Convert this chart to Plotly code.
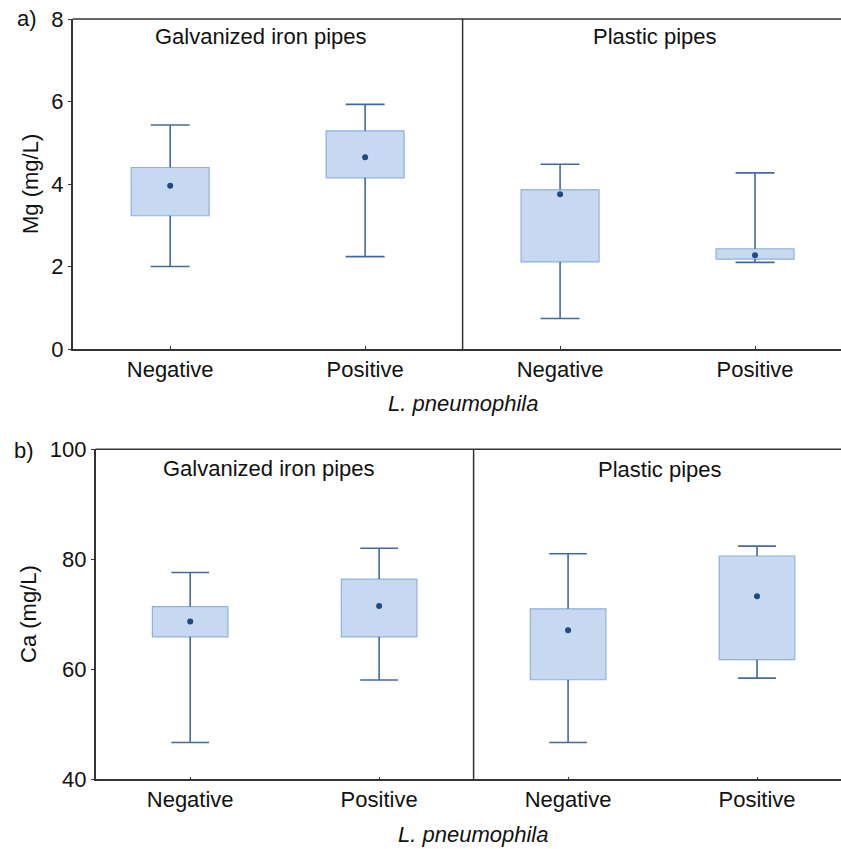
import plotly.graph_objects as go

categories = ["Negative", "Positive", "Negative", "Positive"]
groups = ["Galvanized iron pipes", "Plastic pipes"]

# Mg (mg/L)
mg_min = [2.00, 2.24, 0.74, 2.10]
mg_q1 = [3.23, 4.15, 2.11, 2.18]
mg_mid = [3.96, 4.65, 3.75, 2.27]
mg_q3 = [4.40, 5.29, 3.86, 2.43]
mg_max = [5.43, 5.93, 4.48, 4.27]

# Ca (mg/L)
ca_min = [46.7, 58.05, 46.7, 58.4]
ca_q1 = [65.9, 65.9, 58.1, 61.75]
ca_mid = [68.7, 71.5, 67.1, 73.3]
ca_q3 = [71.4, 76.4, 71.0, 80.6]
ca_max = [77.6, 82.0, 81.0, 82.4]

W, H = 841, 849
FONT = "Liberation Sans, Arial, sans-serif"
BOX_FILL = "#c6d9f1"
BOX_LINE = "#8fb0dc"
WHISK = "#44699f"
DOT = "#1f4a85"
FRAME = "#333333"
FS = 22

fig = go.Figure()

def add_panel(xa, ya, lo, q1, mid, q3, hi):
    pos = list(range(len(categories)))
    fig.add_trace(go.Bar(x=pos, y=[b - a for a, b in zip(q1, q3)], base=q1, width=0.4,
                         marker=dict(color=BOX_FILL, line=dict(color=BOX_LINE, width=1.2)),
                         xaxis=xa, yaxis=ya, showlegend=False, hoverinfo="skip"))
    xs, ys = [], []
    cap = 0.1
    for p, a, b, c, d in zip(pos, lo, q1, q3, hi):
        xs += [p, p, None, p - cap, p + cap, None, p, p, None, p - cap, p + cap, None]
        ys += [c, d, None, d, d, None, b, a, None, a, a, None]
    fig.add_trace(go.Scatter(x=xs, y=ys, mode="lines", line=dict(color=WHISK, width=1.6),
                             xaxis=xa, yaxis=ya, showlegend=False, hoverinfo="skip"))
    fig.add_trace(go.Scatter(x=pos, y=mid, mode="markers", marker=dict(color=DOT, size=6),
                             xaxis=xa, yaxis=ya, showlegend=False))

add_panel("x", "y", mg_min, mg_q1, mg_mid, mg_q3, mg_max)
add_panel("x2", "y2", ca_min, ca_q1, ca_mid, ca_q3, ca_max)

# pixel geometry
top_l, top_r_full = 72.7, 852.5
bot_l, bot_r_full = 95.7, 851.5
top_y0, top_y1 = 19, 349
bot_y0, bot_y1 = 449.3, 779.3

def xrange_for(l, rfull):
    unit = (rfull - l) / 4.0
    return [-0.5, 3.5 - (rfull - W) / unit]

axis_common = dict(tickmode="array", tickvals=[0, 1, 2, 3], ticktext=categories,
                   ticks="inside", ticklen=3, tickcolor=FRAME, showgrid=False, zeroline=False,
                   showline=True, linecolor=FRAME, linewidth=1.5,
                   tickfont=dict(family=FONT, size=FS, color="#111"), automargin=False, fixedrange=True)
yaxis_common = dict(ticks="outside", ticklen=3, tickcolor=FRAME, showgrid=False, zeroline=False,
                    showline=True, linecolor=FRAME, linewidth=1.5,
                    tickfont=dict(family=FONT, size=FS, color="#111"), automargin=False, fixedrange=True)

fig.update_layout(
    width=W, height=H, margin=dict(l=0, r=0, t=0, b=0),
    paper_bgcolor="white", plot_bgcolor="white", showlegend=False, barmode="overlay",
    xaxis=dict(axis_common, domain=[top_l / W, 1], range=xrange_for(top_l, top_r_full), anchor="y"),
    yaxis=dict(yaxis_common, domain=[1 - top_y1 / H, 1 - top_y0 / H], range=[0, 8],
               tickvals=[0, 2, 4, 6, 8], anchor="x"),
    xaxis2=dict(axis_common, domain=[bot_l / W, 1], range=xrange_for(bot_l, bot_r_full), anchor="y2"),
    yaxis2=dict(yaxis_common, domain=[1 - bot_y1 / H, 1 - bot_y0 / H], range=[40, 100],
                tickvals=[40, 60, 80, 100], anchor="x2"),
)

# frame: top line and group divider
for xa, ya in [("x", "y"), ("x2", "y2")]:
    fig.add_shape(type="line", xref=xa + " domain", yref=ya + " domain", x0=0, x1=1, y0=1, y1=1,
                  line=dict(color=FRAME, width=1.5))
    fig.add_shape(type="line", xref=xa, yref=ya + " domain", x0=1.5, x1=1.5, y0=0, y1=1,
                  line=dict(color=FRAME, width=1.5))

def px_ann(text, x, y, size=FS, italic=False, angle=0):
    fig.add_annotation(text=text, x=x / W, y=1 - y / H, xref="paper", yref="paper",
                       showarrow=False, textangle=angle, xanchor="center", yanchor="middle",
                       font=dict(family=FONT, size=size, color="#111",
                                 style="italic" if italic else "normal"))

# group labels
px_ann(groups[0], 261, 37)
px_ann(groups[1], 655, 37)
px_ann(groups[0], 269, 468)
px_ann(groups[1], 660, 469)
# axis titles
px_ann("Mg (mg/L)", 30, 184, angle=-90)
px_ann("Ca (mg/L)", 28, 614, angle=-90)
px_ann("L. pneumophila", 463, 403, italic=True)
px_ann("L. pneumophila", 473, 834, italic=True)
# panel letters
px_ann("a)", 27, 18)
px_ann("b)", 24, 450)

fig.write_html("out.html", config={"displayModeBar": False},
               post_script="document.body.style.margin='0';document.body.style.overflow='hidden';")
